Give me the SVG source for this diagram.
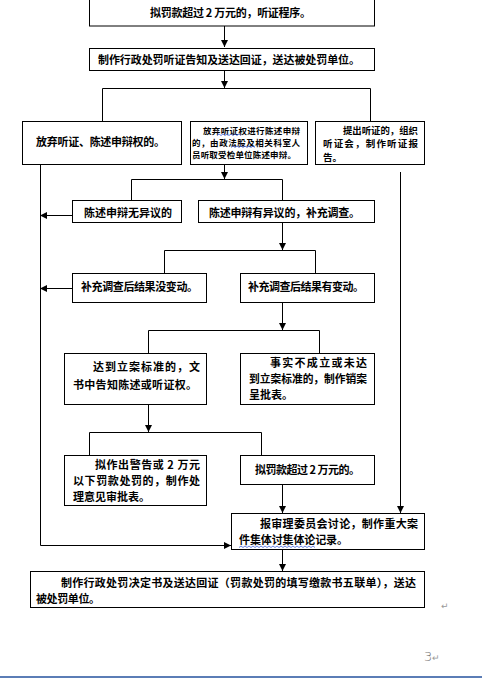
<svg xmlns="http://www.w3.org/2000/svg" width="482" height="679" viewBox="0 0 482 679">
<style>
.b{fill:#fff;stroke:#000;stroke-width:1}
.t{font-family:"Noto Sans CJK SC","Noto Sans",sans-serif;font-size:11px;font-weight:700;fill:#000}
.s{font-family:"Noto Sans CJK SC","Noto Sans",sans-serif;font-size:8.5px;font-weight:700;fill:#000}
.r{font-family:"Noto Sans CJK SC","Noto Sans",sans-serif;font-size:9.5px;font-weight:700;fill:#000}
.c{fill:none;stroke:#000;stroke-width:1}
.w{fill:none;stroke:#4466dd;stroke-width:0.8}
</style>
<defs>
<marker id="a" viewBox="0 0 8 8" refX="8" refY="4" markerWidth="7" markerHeight="7" markerUnits="userSpaceOnUse" orient="auto">
<path d="M0,0L8,4L0,8z" fill="#000"/>
</marker>
</defs>
<rect width="482" height="679" fill="#fff"/>
<g id="connectors">
<path class="c" d="M224.5,26V47" marker-end="url(#a)"/>
<path class="c" d="M224.5,70V88" marker-end="url(#a)"/>
<path class="c" d="M102.5,121V88.5H370.5V121"/>
<path class="c" d="M224.5,164V179" marker-end="url(#a)"/>
<path class="c" d="M131.5,200V179.5H282.5V200"/>
<path class="c" d="M72,215.5H40" marker-end="url(#a)"/>
<path class="c" d="M282.5,222V250" marker-end="url(#a)"/>
<path class="c" d="M164.5,273V250.5H315.5V273"/>
<path class="c" d="M72,288.5H40" marker-end="url(#a)"/>
<path class="c" d="M282.5,302V330" marker-end="url(#a)"/>
<path class="c" d="M148.5,353V330.5H319.5V353"/>
<path class="c" d="M148.5,404V432" marker-end="url(#a)"/>
<path class="c" d="M89.5,455V432.5H261.5V455"/>
<path class="c" d="M282.5,484V513" marker-end="url(#a)"/>
<path class="c" d="M400.5,172V513" marker-end="url(#a)"/>
<path class="c" d="M40.5,164V545.5H231" marker-end="url(#a)"/>
<path class="c" d="M282.5,549V571" marker-end="url(#a)"/>
</g>
<g id="n1">
<rect class="b" x="89.5" y="-2" width="285" height="28"/>
<text class="t" x="150" y="17" textLength="161" lengthAdjust="spacing">拟罚款超过 2 万元的，听证程序。</text>
</g>
<g id="n2">
<rect class="b" x="89.5" y="48.5" width="285" height="22"/>
<text class="t" x="98" y="64" textLength="262" lengthAdjust="spacing">制作行政处罚听证告知及送达回证，送达被处罚单位。</text>
</g>
<g id="n3a">
<rect class="b" x="22.5" y="121.5" width="159" height="43"/>
<text class="t" x="36" y="146" textLength="129" lengthAdjust="spacing">放弃听证、陈述申辩权的。</text>
</g>
<g id="n3b">
<rect class="b" x="190.5" y="121.5" width="117" height="43"/>
<text class="s" x="203" y="133.5" textLength="97" lengthAdjust="spacing">放弃听证权进行陈述申辩</text>
<text class="s" x="192" y="145.5" textLength="108" lengthAdjust="spacing">的，由政法股及相关科室人</text>
<text class="s" x="192" y="157.5" textLength="104" lengthAdjust="spacing">员听取受检单位陈述申辩。</text>
<path class="w" d="M217,135.5l2,-1.5l2,1.5l2,-1.5l2,1.5l2,-1.5l2,1.5l2,-1.5l2,1.5l2,-1.5l2,1.5l2,-1.5l2,1.5"/>
<path class="w" d="M231,147.5l2,-1.5l2,1.5l2,-1.5l2,1.5l2,-1.5l2,1.5l2,-1.5l2,1.5l2,-1.5l2,1.5l2,-1.5l2,1.5"/>
</g>
<g id="n3c">
<rect class="b" x="315.5" y="121.5" width="109" height="43"/>
<text class="r" x="343" y="133.5" textLength="75" lengthAdjust="spacingAndGlyphs">提出听证的，组织</text>
<text class="r" x="323" y="147.3" textLength="95" lengthAdjust="spacing">听证会，制作听证报</text>
<text class="r" x="323" y="161">告。</text>
</g>
<g id="n4a">
<rect class="b" x="72.5" y="200.5" width="109" height="22"/>
<text class="t" x="84" y="217" textLength="88" lengthAdjust="spacing">陈述申辩无异议的</text>
</g>
<g id="n4b">
<rect class="b" x="198.5" y="200.5" width="176" height="22"/>
<text class="t" x="209" y="217" textLength="151" lengthAdjust="spacing">陈述申辩有异议的，补充调查。</text>
</g>
<g id="n5a">
<rect class="b" x="72.5" y="273.5" width="134" height="29"/>
<text class="t" x="81" y="291" textLength="117" lengthAdjust="spacing">补充调查后结果没变动。</text>
</g>
<g id="n5b">
<rect class="b" x="240.5" y="273.5" width="134" height="29"/>
<text class="t" x="248" y="291" textLength="116" lengthAdjust="spacing">补充调查后结果有变动。</text>
</g>
<g id="n6a">
<rect class="b" x="64.5" y="353.5" width="142" height="51"/>
<text class="t" x="93" y="370.5" textLength="107" lengthAdjust="spacing">达到立案标准的，文</text>
<text class="t" x="73" y="389" textLength="124" lengthAdjust="spacing">书中告知陈述或听证权。</text>
</g>
<g id="n6b">
<rect class="b" x="240.5" y="353.5" width="134" height="51"/>
<text class="t" x="270" y="367" textLength="97" lengthAdjust="spacing">事实不成立或未达</text>
<text class="t" x="249" y="383" textLength="118" lengthAdjust="spacingAndGlyphs">到立案标准的，制作销案</text>
<text class="t" x="249" y="399">呈批表。</text>
</g>
<g id="n7a">
<rect class="b" x="64.5" y="455.5" width="142" height="50"/>
<text class="t" x="95" y="469" textLength="105" lengthAdjust="spacing">拟作出警告或 2 万元</text>
<text class="t" x="73" y="485" textLength="127" lengthAdjust="spacing">以下罚款处罚的，制作处</text>
<text class="t" x="73" y="501" textLength="77" lengthAdjust="spacing">理意见审批表。</text>
</g>
<g id="n7b">
<rect class="b" x="240.5" y="455.5" width="134" height="29"/>
<text class="t" x="255" y="474" textLength="105" lengthAdjust="spacing">拟罚款超过 2 万元的。</text>
</g>
<g id="n8">
<rect class="b" x="231.5" y="513.5" width="193" height="36"/>
<text class="t" x="260" y="528" textLength="158" lengthAdjust="spacing">报审理委员会讨论，制作重大案</text>
<text class="t" x="239" y="544" textLength="109" lengthAdjust="spacing">件集体讨集体论记录。</text>
<path class="w" d="M239,547.5l2,-1.5l2,1.5l2,-1.5l2,1.5l2,-1.5l2,1.5l2,-1.5l2,1.5l2,-1.5l2,1.5l2,-1.5l2,1.5l2,-1.5l2,1.5l2,-1.5l2,1.5l2,-1.5l2,1.5l2,-1.5l2,1.5l2,-1.5l2,1.5l2,-1.5l2,1.5l2,-1.5l2,1.5l2,-1.5l2,1.5l2,-1.5l2,1.5l2,-1.5l2,1.5l2,-1.5l2,1.5l2,-1.5l2,1.5l2,-1.5l2,1.5"/>
</g>
<g id="n9">
<rect class="b" x="30.5" y="571.5" width="394" height="36"/>
<text class="t" x="61" y="586.5" textLength="355" lengthAdjust="spacing">制作行政处罚决定书及送达回证（罚款处罚的填写缴款书五联单），送达</text>
<text class="t" x="36" y="602.5" textLength="64" lengthAdjust="spacing">被处罚单位。</text>
</g>
<text x="441" y="609" font-family="DejaVu Sans,sans-serif" font-size="9" fill="#999">↵</text>
<text x="424" y="661" font-family="DejaVu Sans,sans-serif" font-size="13" font-weight="300" fill="#777">3<tspan font-size="9" fill="#999">↵</tspan></text>
<rect x="0" y="676" width="482" height="2" fill="#5b7db6"/>
</svg>
